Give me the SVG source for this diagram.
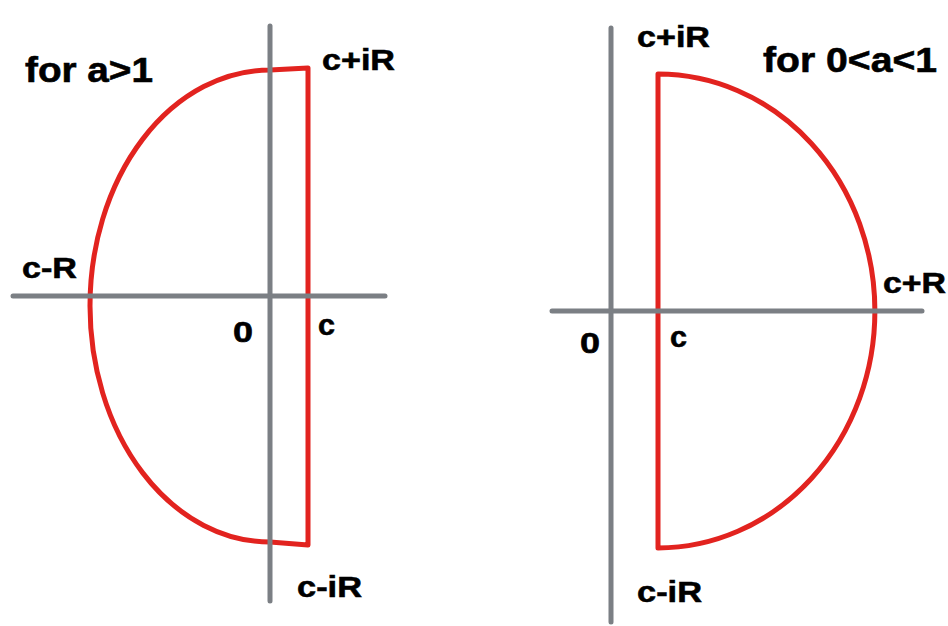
<svg xmlns="http://www.w3.org/2000/svg" width="948" height="626" viewBox="0 0 948 626">
<style>
.axis{stroke:#7b7f84;stroke-width:5;stroke-linecap:round;fill:none}
.contour{stroke:#e2231f;stroke-width:5;fill:none;stroke-linejoin:round}
text{font-family:"Liberation Sans",Arial,sans-serif;font-weight:bold;fill:#000;stroke:#000;stroke-width:0.6}
.lbl{font-size:30px}
.ttl{font-size:35px}
</style>
<rect width="948" height="626" fill="#fff"/>
<g id="left-diagram">
  <path class="contour" d="M308,68 L270,70 A180,236 0 0 0 270,542 L308,545 Z"/>
  <line class="axis" x1="270" y1="26" x2="270" y2="601"/>
  <line class="axis" x1="13" y1="296" x2="385" y2="296"/>
  <text class="ttl" x="25" y="82" textLength="128" lengthAdjust="spacingAndGlyphs">for a&gt;1</text>
  <text class="lbl" x="322" y="70" textLength="73" lengthAdjust="spacingAndGlyphs">c+iR</text>
  <text class="lbl" x="22" y="278" textLength="55" lengthAdjust="spacingAndGlyphs">c-R</text>
  <text class="lbl" x="233" y="342" textLength="20" lengthAdjust="spacingAndGlyphs">0</text>
  <text class="lbl" x="318" y="335" textLength="17" lengthAdjust="spacingAndGlyphs">c</text>
  <text class="lbl" x="297" y="597" textLength="65" lengthAdjust="spacingAndGlyphs">c-iR</text>
</g>
<g id="right-diagram">
  <path class="contour" d="M658,74 A217,237 0 0 1 658,548 Z"/>
  <line class="axis" x1="611" y1="28" x2="611" y2="622"/>
  <line class="axis" x1="552" y1="311" x2="922" y2="311"/>
  <text class="ttl" x="763" y="72" textLength="174" lengthAdjust="spacingAndGlyphs">for 0&lt;a&lt;1</text>
  <text class="lbl" x="637" y="47" textLength="73" lengthAdjust="spacingAndGlyphs">c+iR</text>
  <text class="lbl" x="883" y="293" textLength="63" lengthAdjust="spacingAndGlyphs">c+R</text>
  <text class="lbl" x="580" y="353" textLength="20" lengthAdjust="spacingAndGlyphs">0</text>
  <text class="lbl" x="670" y="347" textLength="17" lengthAdjust="spacingAndGlyphs">c</text>
  <text class="lbl" x="637" y="602" textLength="65" lengthAdjust="spacingAndGlyphs">c-iR</text>
</g>
</svg>
